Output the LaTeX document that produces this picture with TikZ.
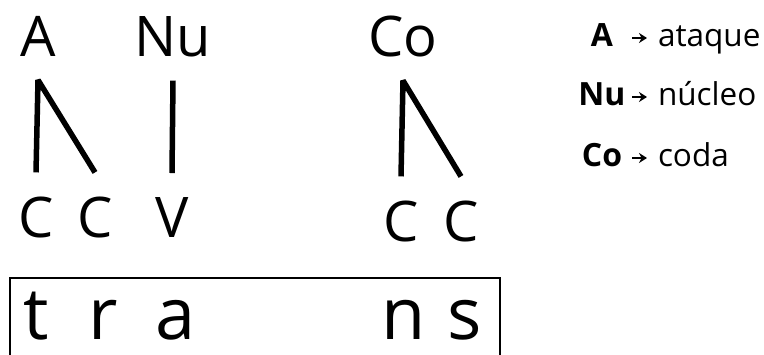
\documentclass[tikz,border=0pt]{standalone}
\usepackage{fontspec}
\setmainfont{Open Sans}
\usetikzlibrary{arrows.meta,positioning}

\begin{document}
\begin{tikzpicture}[x=1pt, y=-1pt,
    head/.style={anchor=base, inner sep=0pt, outer ysep=23pt, font=\fontsize{56}{56}\selectfont},
    slot/.style={anchor=base, inner sep=0pt, outer ysep=25pt, font=\fontsize{56}{56}\selectfont},
    seg/.style={anchor=base, inner sep=0pt, font=\fontsize{72}{72}\selectfont},
    branch/.style={line width=5.5pt, line join=bevel},
    keyname/.style={anchor=base, inner sep=0pt, text height=18pt, text depth=0pt, minimum width=60pt, font=\fontsize{32}{32}\selectfont\bfseries},
    keytext/.style={anchor=base west, inner sep=0pt, outer xsep=11pt, font=\fontsize{31.5}{31.5}\selectfont},
    keyarrow/.style={-{Stealth[length=8pt,width=10pt]}, line width=2pt}]
  \useasboundingbox (0,0) rectangle (764,355);
  \clip (0,0) rectangle (764,355);

  % Constituents
  \node[head] (A) at (38,57) {A};
  \node[head] (Nu) at (173,57) {Nu};
  \node[head] (Co) at (403,57) {Co};

  % Skeleton slots
  \node[slot] (c1) at (36,238) {C};
  \node[slot] (c2) at (95,238) {C};
  \node[slot] (v1) at (172,238) {V};
  \node[slot] (c3) at (401,242) {C};
  \node[slot] (c4) at (461,242) {C};

  % Branches
  \draw[branch] (c1.north) -- (A.south) -- (c2.north);
  \draw[branch] (Nu.south) -- (v1.north);
  \draw[branch] (c3.north) -- (Co.south) -- (c4.north);

  % Segments of the word
  \node[draw, line width=2pt, minimum width=490pt, minimum height=130pt, anchor=north west] (word) at (9,277) {};
  \node[seg] (t) at (36,340) {t};
  \node[seg] (r) at (103,340) {r};
  \node[seg] (a) at (176,340) {a};
  \node[seg] (n) at (404,340) {n};
  \node[seg] (s) at (465,340) {s};

  % Legend
  \node[keyname] (kA) at (602,47) {A};
  \node[keyname] (kNu) at (602,106) {Nu};
  \node[keyname] (kCo) at (602,167) {Co};
  \node[keytext] (dA) at (647,47) {ataque};
  \node[keytext] (dNu) at (647,106) {núcleo};
  \node[keytext] (dCo) at (647,167) {coda};
  \draw[keyarrow] (kA.east) -- (kA.east -| dA.west);
  \draw[keyarrow] (kNu.east) -- (kNu.east -| dNu.west);
  \draw[keyarrow] (kCo.east) -- (kCo.east -| dCo.west);
\end{tikzpicture}
\end{document}
